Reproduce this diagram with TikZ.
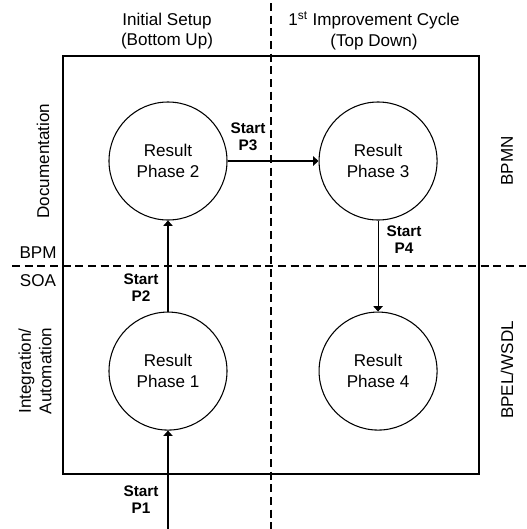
\documentclass[tikz,border=0pt]{standalone}
\usepackage{fontspec}
\setmainfont{Liberation Sans}
\usetikzlibrary{arrows.meta, positioning}

\begin{document}
\begin{tikzpicture}[
    x=0.75pt, y=-0.75pt,
    node distance=68.25pt,
    phase/.style={
        circle,
        draw,
        line width=0.8pt,
        minimum size=88.5pt,
        inner sep=0pt,
        align=center,
        font=\fontsize{12.8}{15.5}\selectfont
    },
    caption/.style={align=center, inner sep=1pt, font=\fontsize{12.8}{15.5}\selectfont},
    startlbl/.style={align=center, inner sep=1pt, font=\fontsize{11.5}{12.8}\selectfont\bfseries},
    flow/.style={-{Triangle[length=4pt,width=7pt]}, line width=0.8pt},
    divider/.style={dash pattern=on 6pt off 3.5pt, line width=0.8pt}
]
    \useasboundingbox (0,0) rectangle (526,529);

    % Frame and the two dividing lines
    \draw[line width=0.8pt] (63,56) rectangle (479,474);
    \coordinate (vtop) at (271,3);
    \coordinate (vbot) at (271,529);
    \coordinate (hleft) at (12,266);
    \coordinate (hright) at (526,266);
    \draw[divider] (vtop) -- (vbot);
    \draw[divider] (hleft) -- (hright);

    % Phase results
    \node[phase] (p2) at (168,161) {Result\\Phase 2};
    \node[phase, right=of p2] (p3) {Result\\Phase 3};
    \node[phase, below=of p2] (p1) {Result\\Phase 1};
    \node[phase, below=of p3] (p4) {Result\\Phase 4};

    % Transitions
    \coordinate (in1) at (168,529);
    \draw[flow] (in1) -- (p1);
    \draw[flow] (p1) -- (p2);
    \draw[flow] (p2) -- (p3);
    \draw[flow] (p3) -- (p4);

    \node[startlbl] (s1) at (141,500) {Start\\P1};
    \node[startlbl] (s2) at (141,288) {Start\\P2};
    \node[startlbl] (s3) at (248,137) {Start\\P3};
    \node[startlbl] (s4) at (404,240) {Start\\P4};

    % Column headings
    \node[caption] (setup) at (167,31) {Initial Setup\\(Bottom Up)};
    \node[caption] (cycle) at (374,31) {1\textsuperscript{st} Improvement Cycle\\(Top Down)};

    % Row headings
    \node[caption, rotate=90] (doc) at (43,161) {Documentation};
    \node[caption, rotate=90] (integ) at (35,371) {Integration/\\Automation};
    \node[caption] (bpm) at (38,253) {BPM};
    \node[caption] (soa) at (38,281) {SOA};
    \node[caption, rotate=90] (bpmn) at (507,161) {BPMN};
    \node[caption, rotate=90] (bpel) at (507,370) {BPEL/WSDL};
\end{tikzpicture}
\end{document}
